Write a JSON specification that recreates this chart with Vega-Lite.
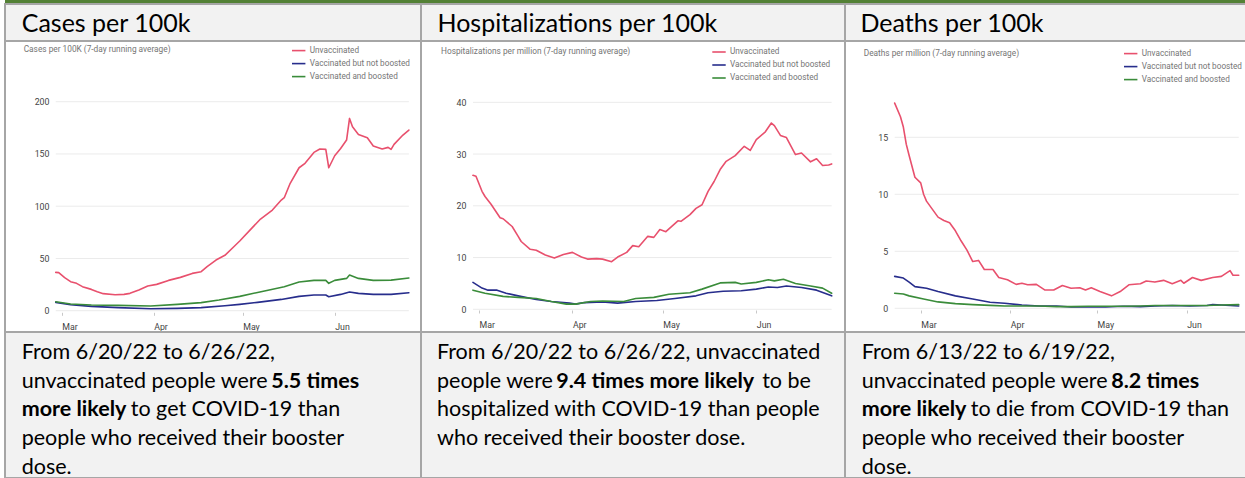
{
"$schema": "https://vega.github.io/schema/vega-lite/v6.json",
"padding": {"left": 4, "top": 0, "right": 0, "bottom": 0},
"background": "white",
"config": {
  "view": {"stroke": null},
  "axis": {"domain": false, "grid": false, "labelFont": "Roboto", "labelFontSize": 8.8, "labelColor": "#444444", "labelFlush": false, "labelOverlap": false},
  "axisX": {"tickSize": 3, "tickColor": "#c8c8c8", "tickWidth": 1, "labelAlign": "left", "labelBaseline": "top", "labelPadding": 7},
  "axisY": {"ticks": false, "tickSize": 0, "labelPadding": 2},
  "legend": {"orient": "none", "symbolType": "stroke", "symbolSize": 180, "symbolStrokeWidth": 2, "labelFontSize": 8.2, "labelFont": "Roboto", "labelColor": "#757575", "rowPadding": 1, "labelOffset": 3, "padding": 0, "labelLimit": 250},
  "line": {"strokeWidth": 1.6, "strokeJoin": "round", "strokeCap": "round"}
},
"datasets": {
  "cases": [
    {"d":"2022-02-27","s":"Unvaccinated","v":36.7},{"d":"2022-02-28","s":"Unvaccinated","v":36.4},{"d":"2022-03-02","s":"Unvaccinated","v":31.6},{"d":"2022-03-04","s":"Unvaccinated","v":27.8},{"d":"2022-03-06","s":"Unvaccinated","v":26.2},{"d":"2022-03-08","s":"Unvaccinated","v":23.0},{"d":"2022-03-11","s":"Unvaccinated","v":20.4},{"d":"2022-03-13","s":"Unvaccinated","v":18.2},{"d":"2022-03-15","s":"Unvaccinated","v":16.3},{"d":"2022-03-19","s":"Unvaccinated","v":15.3},{"d":"2022-03-22","s":"Unvaccinated","v":15.6},{"d":"2022-03-24","s":"Unvaccinated","v":16.6},{"d":"2022-03-27","s":"Unvaccinated","v":19.8},{"d":"2022-03-30","s":"Unvaccinated","v":23.6},{"d":"2022-04-02","s":"Unvaccinated","v":25.2},{"d":"2022-04-06","s":"Unvaccinated","v":29.0},{"d":"2022-04-10","s":"Unvaccinated","v":31.9},{"d":"2022-04-14","s":"Unvaccinated","v":35.7},{"d":"2022-04-17","s":"Unvaccinated","v":37.3},{"d":"2022-04-19","s":"Unvaccinated","v":42.1},{"d":"2022-04-22","s":"Unvaccinated","v":48.5},{"d":"2022-04-25","s":"Unvaccinated","v":53.0},{"d":"2022-04-28","s":"Unvaccinated","v":61.2},{"d":"2022-04-30","s":"Unvaccinated","v":66.7},{"d":"2022-05-04","s":"Unvaccinated","v":78.8},{"d":"2022-05-07","s":"Unvaccinated","v":87.7},{"d":"2022-05-11","s":"Unvaccinated","v":96.3},{"d":"2022-05-14","s":"Unvaccinated","v":105.9},{"d":"2022-05-15","s":"Unvaccinated","v":108.1},{"d":"2022-05-17","s":"Unvaccinated","v":121.9},{"d":"2022-05-20","s":"Unvaccinated","v":136.8},{"d":"2022-05-22","s":"Unvaccinated","v":141.0},{"d":"2022-05-25","s":"Unvaccinated","v":151.5},{"d":"2022-05-27","s":"Unvaccinated","v":154.7},{"d":"2022-05-29","s":"Unvaccinated","v":154.4},{"d":"2022-05-30","s":"Unvaccinated","v":136.8},{"d":"2022-06-01","s":"Unvaccinated","v":148.3},{"d":"2022-06-03","s":"Unvaccinated","v":155.3},{"d":"2022-06-05","s":"Unvaccinated","v":163.3},{"d":"2022-06-06","s":"Unvaccinated","v":184.0},{"d":"2022-06-07","s":"Unvaccinated","v":176.0},{"d":"2022-06-09","s":"Unvaccinated","v":168.7},{"d":"2022-06-12","s":"Unvaccinated","v":165.5},{"d":"2022-06-14","s":"Unvaccinated","v":157.6},{"d":"2022-06-17","s":"Unvaccinated","v":154.7},{"d":"2022-06-19","s":"Unvaccinated","v":156.3},{"d":"2022-06-20","s":"Unvaccinated","v":154.4},{"d":"2022-06-21","s":"Unvaccinated","v":159.2},{"d":"2022-06-24","s":"Unvaccinated","v":168.1},{"d":"2022-06-26","s":"Unvaccinated","v":172.9},
    {"d":"2022-02-27","s":"Vaccinated but not boosted","v":8.0},{"d":"2022-03-04","s":"Vaccinated but not boosted","v":5.7},{"d":"2022-03-11","s":"Vaccinated but not boosted","v":4.1},{"d":"2022-03-20","s":"Vaccinated but not boosted","v":2.9},{"d":"2022-03-31","s":"Vaccinated but not boosted","v":1.9},{"d":"2022-04-09","s":"Vaccinated but not boosted","v":2.2},{"d":"2022-04-17","s":"Vaccinated but not boosted","v":2.9},{"d":"2022-04-25","s":"Vaccinated but not boosted","v":4.8},{"d":"2022-04-30","s":"Vaccinated but not boosted","v":6.1},{"d":"2022-05-06","s":"Vaccinated but not boosted","v":8.0},{"d":"2022-05-14","s":"Vaccinated but not boosted","v":10.8},{"d":"2022-05-20","s":"Vaccinated but not boosted","v":13.7},{"d":"2022-05-25","s":"Vaccinated but not boosted","v":15.0},{"d":"2022-05-29","s":"Vaccinated but not boosted","v":15.0},{"d":"2022-05-30","s":"Vaccinated but not boosted","v":13.4},{"d":"2022-06-03","s":"Vaccinated but not boosted","v":15.6},{"d":"2022-06-06","s":"Vaccinated but not boosted","v":17.9},{"d":"2022-06-09","s":"Vaccinated but not boosted","v":16.6},{"d":"2022-06-14","s":"Vaccinated but not boosted","v":15.6},{"d":"2022-06-20","s":"Vaccinated but not boosted","v":15.6},{"d":"2022-06-26","s":"Vaccinated but not boosted","v":17.2},
    {"d":"2022-02-27","s":"Vaccinated and boosted","v":8.6},{"d":"2022-03-04","s":"Vaccinated and boosted","v":6.4},{"d":"2022-03-11","s":"Vaccinated and boosted","v":5.4},{"d":"2022-03-20","s":"Vaccinated and boosted","v":5.1},{"d":"2022-03-31","s":"Vaccinated and boosted","v":4.5},{"d":"2022-04-09","s":"Vaccinated and boosted","v":6.1},{"d":"2022-04-17","s":"Vaccinated and boosted","v":7.7},{"d":"2022-04-23","s":"Vaccinated and boosted","v":10.2},{"d":"2022-04-30","s":"Vaccinated and boosted","v":13.7},{"d":"2022-05-06","s":"Vaccinated and boosted","v":17.5},{"d":"2022-05-15","s":"Vaccinated and boosted","v":23.0},{"d":"2022-05-20","s":"Vaccinated and boosted","v":27.4},{"d":"2022-05-25","s":"Vaccinated and boosted","v":29.0},{"d":"2022-05-29","s":"Vaccinated and boosted","v":29.0},{"d":"2022-05-30","s":"Vaccinated and boosted","v":26.2},{"d":"2022-06-01","s":"Vaccinated and boosted","v":29.0},{"d":"2022-06-05","s":"Vaccinated and boosted","v":30.9},{"d":"2022-06-06","s":"Vaccinated and boosted","v":34.1},{"d":"2022-06-09","s":"Vaccinated and boosted","v":30.9},{"d":"2022-06-14","s":"Vaccinated and boosted","v":29.0},{"d":"2022-06-20","s":"Vaccinated and boosted","v":29.3},{"d":"2022-06-26","s":"Vaccinated and boosted","v":31.3}
  ],
  "hosp": [
    {"d":"2022-02-27","s":"Unvaccinated","v":25.9},{"d":"2022-02-28","s":"Unvaccinated","v":25.7},{"d":"2022-03-02","s":"Unvaccinated","v":22.8},{"d":"2022-03-03","s":"Unvaccinated","v":21.8},{"d":"2022-03-05","s":"Unvaccinated","v":20.3},{"d":"2022-03-08","s":"Unvaccinated","v":17.7},{"d":"2022-03-09","s":"Unvaccinated","v":17.5},{"d":"2022-03-12","s":"Unvaccinated","v":16.0},{"d":"2022-03-14","s":"Unvaccinated","v":14.1},{"d":"2022-03-15","s":"Unvaccinated","v":13.1},{"d":"2022-03-18","s":"Unvaccinated","v":11.6},{"d":"2022-03-20","s":"Unvaccinated","v":11.4},{"d":"2022-03-23","s":"Unvaccinated","v":10.5},{"d":"2022-03-26","s":"Unvaccinated","v":9.9},{"d":"2022-03-29","s":"Unvaccinated","v":10.6},{"d":"2022-04-01","s":"Unvaccinated","v":11.0},{"d":"2022-04-04","s":"Unvaccinated","v":10.1},{"d":"2022-04-06","s":"Unvaccinated","v":9.7},{"d":"2022-04-09","s":"Unvaccinated","v":9.8},{"d":"2022-04-11","s":"Unvaccinated","v":9.7},{"d":"2022-04-14","s":"Unvaccinated","v":9.2},{"d":"2022-04-16","s":"Unvaccinated","v":10.1},{"d":"2022-04-19","s":"Unvaccinated","v":11.0},{"d":"2022-04-21","s":"Unvaccinated","v":12.3},{"d":"2022-04-23","s":"Unvaccinated","v":12.1},{"d":"2022-04-26","s":"Unvaccinated","v":14.1},{"d":"2022-04-28","s":"Unvaccinated","v":13.9},{"d":"2022-04-30","s":"Unvaccinated","v":15.4},{"d":"2022-05-02","s":"Unvaccinated","v":15.0},{"d":"2022-05-06","s":"Unvaccinated","v":17.1},{"d":"2022-05-07","s":"Unvaccinated","v":17.0},{"d":"2022-05-10","s":"Unvaccinated","v":18.3},{"d":"2022-05-12","s":"Unvaccinated","v":19.5},{"d":"2022-05-14","s":"Unvaccinated","v":20.2},{"d":"2022-05-16","s":"Unvaccinated","v":22.8},{"d":"2022-05-18","s":"Unvaccinated","v":24.7},{"d":"2022-05-20","s":"Unvaccinated","v":27.0},{"d":"2022-05-22","s":"Unvaccinated","v":28.6},{"d":"2022-05-25","s":"Unvaccinated","v":29.7},{"d":"2022-05-28","s":"Unvaccinated","v":31.5},{"d":"2022-05-30","s":"Unvaccinated","v":30.7},{"d":"2022-06-01","s":"Unvaccinated","v":32.8},{"d":"2022-06-04","s":"Unvaccinated","v":34.3},{"d":"2022-06-06","s":"Unvaccinated","v":36.0},{"d":"2022-06-07","s":"Unvaccinated","v":35.5},{"d":"2022-06-09","s":"Unvaccinated","v":33.6},{"d":"2022-06-11","s":"Unvaccinated","v":33.2},{"d":"2022-06-14","s":"Unvaccinated","v":29.9},{"d":"2022-06-16","s":"Unvaccinated","v":30.2},{"d":"2022-06-19","s":"Unvaccinated","v":28.5},{"d":"2022-06-21","s":"Unvaccinated","v":29.1},{"d":"2022-06-23","s":"Unvaccinated","v":27.8},{"d":"2022-06-25","s":"Unvaccinated","v":27.9},{"d":"2022-06-26","s":"Unvaccinated","v":28.1},
    {"d":"2022-02-27","s":"Vaccinated but not boosted","v":5.2},{"d":"2022-03-02","s":"Vaccinated but not boosted","v":4.1},{"d":"2022-03-04","s":"Vaccinated but not boosted","v":3.7},{"d":"2022-03-07","s":"Vaccinated but not boosted","v":3.7},{"d":"2022-03-10","s":"Vaccinated but not boosted","v":3.1},{"d":"2022-03-14","s":"Vaccinated but not boosted","v":2.6},{"d":"2022-03-20","s":"Vaccinated but not boosted","v":1.9},{"d":"2022-03-25","s":"Vaccinated but not boosted","v":1.5},{"d":"2022-03-31","s":"Vaccinated but not boosted","v":1.2},{"d":"2022-04-02","s":"Vaccinated but not boosted","v":1.0},{"d":"2022-04-05","s":"Vaccinated but not boosted","v":1.3},{"d":"2022-04-11","s":"Vaccinated but not boosted","v":1.4},{"d":"2022-04-16","s":"Vaccinated but not boosted","v":1.2},{"d":"2022-04-22","s":"Vaccinated but not boosted","v":1.5},{"d":"2022-04-29","s":"Vaccinated but not boosted","v":1.7},{"d":"2022-05-05","s":"Vaccinated but not boosted","v":2.1},{"d":"2022-05-12","s":"Vaccinated but not boosted","v":2.6},{"d":"2022-05-16","s":"Vaccinated but not boosted","v":3.2},{"d":"2022-05-21","s":"Vaccinated but not boosted","v":3.5},{"d":"2022-05-27","s":"Vaccinated but not boosted","v":3.6},{"d":"2022-06-01","s":"Vaccinated but not boosted","v":3.9},{"d":"2022-06-05","s":"Vaccinated but not boosted","v":4.3},{"d":"2022-06-08","s":"Vaccinated but not boosted","v":4.2},{"d":"2022-06-11","s":"Vaccinated but not boosted","v":4.5},{"d":"2022-06-16","s":"Vaccinated but not boosted","v":4.2},{"d":"2022-06-21","s":"Vaccinated but not boosted","v":3.7},{"d":"2022-06-26","s":"Vaccinated but not boosted","v":2.6},
    {"d":"2022-02-27","s":"Vaccinated and boosted","v":3.7},{"d":"2022-03-03","s":"Vaccinated and boosted","v":3.1},{"d":"2022-03-09","s":"Vaccinated and boosted","v":2.5},{"d":"2022-03-14","s":"Vaccinated and boosted","v":2.3},{"d":"2022-03-20","s":"Vaccinated and boosted","v":2.1},{"d":"2022-03-25","s":"Vaccinated and boosted","v":1.5},{"d":"2022-03-30","s":"Vaccinated and boosted","v":1.0},{"d":"2022-04-02","s":"Vaccinated and boosted","v":1.0},{"d":"2022-04-07","s":"Vaccinated and boosted","v":1.5},{"d":"2022-04-11","s":"Vaccinated and boosted","v":1.6},{"d":"2022-04-18","s":"Vaccinated and boosted","v":1.5},{"d":"2022-04-22","s":"Vaccinated and boosted","v":2.1},{"d":"2022-04-28","s":"Vaccinated and boosted","v":2.3},{"d":"2022-05-03","s":"Vaccinated and boosted","v":2.9},{"d":"2022-05-10","s":"Vaccinated and boosted","v":3.2},{"d":"2022-05-14","s":"Vaccinated and boosted","v":3.9},{"d":"2022-05-20","s":"Vaccinated and boosted","v":5.1},{"d":"2022-05-25","s":"Vaccinated and boosted","v":5.2},{"d":"2022-05-27","s":"Vaccinated and boosted","v":4.9},{"d":"2022-06-01","s":"Vaccinated and boosted","v":5.2},{"d":"2022-06-05","s":"Vaccinated and boosted","v":5.7},{"d":"2022-06-07","s":"Vaccinated and boosted","v":5.5},{"d":"2022-06-10","s":"Vaccinated and boosted","v":5.8},{"d":"2022-06-14","s":"Vaccinated and boosted","v":5.0},{"d":"2022-06-19","s":"Vaccinated and boosted","v":4.5},{"d":"2022-06-23","s":"Vaccinated and boosted","v":4.1},{"d":"2022-06-26","s":"Vaccinated and boosted","v":3.1}
  ],
  "deaths": [
    {"d":"2022-02-20","s":"Unvaccinated","v":18.0},{"d":"2022-02-22","s":"Unvaccinated","v":16.8},{"d":"2022-02-23","s":"Unvaccinated","v":15.9},{"d":"2022-02-24","s":"Unvaccinated","v":14.4},{"d":"2022-02-25","s":"Unvaccinated","v":13.4},{"d":"2022-02-27","s":"Unvaccinated","v":11.5},{"d":"2022-03-01","s":"Unvaccinated","v":11.0},{"d":"2022-03-02","s":"Unvaccinated","v":10.0},{"d":"2022-03-03","s":"Unvaccinated","v":9.4},{"d":"2022-03-05","s":"Unvaccinated","v":8.7},{"d":"2022-03-07","s":"Unvaccinated","v":8.0},{"d":"2022-03-09","s":"Unvaccinated","v":7.7},{"d":"2022-03-11","s":"Unvaccinated","v":7.5},{"d":"2022-03-13","s":"Unvaccinated","v":6.8},{"d":"2022-03-15","s":"Unvaccinated","v":5.9},{"d":"2022-03-17","s":"Unvaccinated","v":5.1},{"d":"2022-03-19","s":"Unvaccinated","v":4.1},{"d":"2022-03-21","s":"Unvaccinated","v":4.2},{"d":"2022-03-23","s":"Unvaccinated","v":3.4},{"d":"2022-03-26","s":"Unvaccinated","v":3.4},{"d":"2022-03-28","s":"Unvaccinated","v":2.7},{"d":"2022-03-31","s":"Unvaccinated","v":2.5},{"d":"2022-04-03","s":"Unvaccinated","v":2.1},{"d":"2022-04-05","s":"Unvaccinated","v":2.2},{"d":"2022-04-07","s":"Unvaccinated","v":2.06},{"d":"2022-04-10","s":"Unvaccinated","v":2.1},{"d":"2022-04-13","s":"Unvaccinated","v":1.6},{"d":"2022-04-16","s":"Unvaccinated","v":1.6},{"d":"2022-04-19","s":"Unvaccinated","v":2.0},{"d":"2022-04-22","s":"Unvaccinated","v":1.76},{"d":"2022-04-25","s":"Unvaccinated","v":1.8},{"d":"2022-04-27","s":"Unvaccinated","v":1.6},{"d":"2022-04-29","s":"Unvaccinated","v":1.8},{"d":"2022-05-02","s":"Unvaccinated","v":1.47},{"d":"2022-05-06","s":"Unvaccinated","v":1.09},{"d":"2022-05-09","s":"Unvaccinated","v":1.47},{"d":"2022-05-12","s":"Unvaccinated","v":2.06},{"d":"2022-05-16","s":"Unvaccinated","v":2.15},{"d":"2022-05-18","s":"Unvaccinated","v":2.4},{"d":"2022-05-21","s":"Unvaccinated","v":2.3},{"d":"2022-05-24","s":"Unvaccinated","v":2.45},{"d":"2022-05-27","s":"Unvaccinated","v":2.15},{"d":"2022-05-30","s":"Unvaccinated","v":2.45},{"d":"2022-05-31","s":"Unvaccinated","v":2.2},{"d":"2022-06-03","s":"Unvaccinated","v":2.7},{"d":"2022-06-06","s":"Unvaccinated","v":2.45},{"d":"2022-06-10","s":"Unvaccinated","v":2.7},{"d":"2022-06-13","s":"Unvaccinated","v":2.8},{"d":"2022-06-16","s":"Unvaccinated","v":3.3},{"d":"2022-06-17","s":"Unvaccinated","v":2.9},{"d":"2022-06-19","s":"Unvaccinated","v":2.9},
    {"d":"2022-02-20","s":"Vaccinated but not boosted","v":2.8},{"d":"2022-02-23","s":"Vaccinated but not boosted","v":2.65},{"d":"2022-02-25","s":"Vaccinated but not boosted","v":2.3},{"d":"2022-02-27","s":"Vaccinated but not boosted","v":1.9},{"d":"2022-03-03","s":"Vaccinated but not boosted","v":1.76},{"d":"2022-03-07","s":"Vaccinated but not boosted","v":1.47},{"d":"2022-03-13","s":"Vaccinated but not boosted","v":1.09},{"d":"2022-03-19","s":"Vaccinated but not boosted","v":0.82},{"d":"2022-03-25","s":"Vaccinated but not boosted","v":0.53},{"d":"2022-03-30","s":"Vaccinated but not boosted","v":0.44},{"d":"2022-04-05","s":"Vaccinated but not boosted","v":0.29},{"d":"2022-04-11","s":"Vaccinated but not boosted","v":0.2},{"d":"2022-04-17","s":"Vaccinated but not boosted","v":0.2},{"d":"2022-04-22","s":"Vaccinated but not boosted","v":0.12},{"d":"2022-04-28","s":"Vaccinated but not boosted","v":0.12},{"d":"2022-05-04","s":"Vaccinated but not boosted","v":0.12},{"d":"2022-05-10","s":"Vaccinated but not boosted","v":0.18},{"d":"2022-05-16","s":"Vaccinated but not boosted","v":0.15},{"d":"2022-05-21","s":"Vaccinated but not boosted","v":0.2},{"d":"2022-05-27","s":"Vaccinated but not boosted","v":0.24},{"d":"2022-06-02","s":"Vaccinated but not boosted","v":0.2},{"d":"2022-06-08","s":"Vaccinated but not boosted","v":0.24},{"d":"2022-06-10","s":"Vaccinated but not boosted","v":0.32},{"d":"2022-06-13","s":"Vaccinated but not boosted","v":0.29},{"d":"2022-06-19","s":"Vaccinated but not boosted","v":0.2},
    {"d":"2022-02-20","s":"Vaccinated and boosted","v":1.32},{"d":"2022-02-23","s":"Vaccinated and boosted","v":1.26},{"d":"2022-02-25","s":"Vaccinated and boosted","v":1.09},{"d":"2022-03-02","s":"Vaccinated and boosted","v":0.82},{"d":"2022-03-07","s":"Vaccinated and boosted","v":0.56},{"d":"2022-03-13","s":"Vaccinated and boosted","v":0.41},{"d":"2022-03-19","s":"Vaccinated and boosted","v":0.32},{"d":"2022-03-25","s":"Vaccinated and boosted","v":0.26},{"d":"2022-03-30","s":"Vaccinated and boosted","v":0.2},{"d":"2022-04-05","s":"Vaccinated and boosted","v":0.2},{"d":"2022-04-11","s":"Vaccinated and boosted","v":0.2},{"d":"2022-04-17","s":"Vaccinated and boosted","v":0.15},{"d":"2022-04-22","s":"Vaccinated and boosted","v":0.15},{"d":"2022-04-28","s":"Vaccinated and boosted","v":0.18},{"d":"2022-05-04","s":"Vaccinated and boosted","v":0.18},{"d":"2022-05-10","s":"Vaccinated and boosted","v":0.18},{"d":"2022-05-16","s":"Vaccinated and boosted","v":0.2},{"d":"2022-05-21","s":"Vaccinated and boosted","v":0.24},{"d":"2022-05-27","s":"Vaccinated and boosted","v":0.24},{"d":"2022-06-02","s":"Vaccinated and boosted","v":0.24},{"d":"2022-06-08","s":"Vaccinated and boosted","v":0.24},{"d":"2022-06-13","s":"Vaccinated and boosted","v":0.29},{"d":"2022-06-19","s":"Vaccinated and boosted","v":0.32}
  ],
  "txt": [
    {"p":"c","line":1,"col":0,"t":"From 6/20/22 to 6/26/22,","b":0},
    {"p":"c","line":2,"col":0,"t":"unvaccinated people were","b":0},
    {"p":"c","line":2,"col":24.7,"t":"5.5 times","b":1},
    {"p":"c","line":3,"col":0,"t":"more likely","b":1},
    {"p":"c","line":3,"col":10.8,"t":"to get COVID-19 than","b":0},
    {"p":"c","line":4,"col":0,"t":"people who received their booster","b":0},
    {"p":"c","line":5,"col":0,"t":"dose.","b":0},
    {"p":"h","line":1,"col":0,"t":"From 6/20/22 to 6/26/22, unvaccinated","b":0},
    {"p":"h","line":2,"col":0,"t":"people were","b":0},
    {"p":"h","line":2,"col":11.8,"t":"9.4 times more likely","b":1},
    {"p":"h","line":2,"col":32.2,"t":"to be","b":0},
    {"p":"h","line":3,"col":0,"t":"hospitalized with COVID-19 than people","b":0},
    {"p":"h","line":4,"col":0,"t":"who received their booster dose.","b":0},
    {"p":"d","line":1,"col":0,"t":"From 6/13/22 to 6/19/22,","b":0},
    {"p":"d","line":2,"col":0,"t":"unvaccinated people were","b":0},
    {"p":"d","line":2,"col":24.7,"t":"8.2 times","b":1},
    {"p":"d","line":3,"col":0,"t":"more likely","b":1},
    {"p":"d","line":3,"col":10.8,"t":"to die from COVID-19 than","b":0},
    {"p":"d","line":4,"col":0,"t":"people who received their booster","b":0},
    {"p":"d","line":5,"col":0,"t":"dose.","b":0}
  ]
},
"columns": 3,
"spacing": 0,
"bounds": "flush",
"align": "each",
"resolve": {"scale": {"color": "independent", "x": "independent", "y": "independent"}, "legend": {"color": "independent"}},
"concat": [
  {"width": 416, "height": 4, "data": {"values": [{"k": 1}]}, "mark": {"type": "rect", "color": "#538135"}, "encoding": {}},
  {"width": 424, "height": 4, "data": {"values": [{"k": 1}]}, "mark": {"type": "rect", "color": "#538135"}, "encoding": {}},
  {"width": 401, "height": 4, "data": {"values": [{"k": 1}]}, "mark": {"type": "rect", "color": "#538135"}, "encoding": {}},

  {"width": 416, "height": 37, "view": {"fill": "#f2f2f2", "stroke": "#a6a6a6", "strokeWidth": 2},
   "data": {"values": [{"h": "Cases per 100k"}]},
   "mark": {"type": "text", "align": "left", "baseline": "alphabetic", "font": "Lato", "fontSize": 25, "color": "#000000"},
   "encoding": {"text": {"field": "h"}, "x": {"datum": 0, "type": "quantitative", "scale": {"domain": [-1, 23.91], "nice": false, "zero": false}, "axis": null}, "y": {"datum": 0, "type": "quantitative", "scale": {"domain": [-1, 3.253], "nice": false, "zero": false}, "axis": null}}},
  {"width": 424, "height": 37, "view": {"fill": "#f2f2f2", "stroke": "#a6a6a6", "strokeWidth": 2},
   "data": {"values": [{"h": "Hospitalizations per 100k"}]},
   "mark": {"type": "text", "align": "left", "baseline": "alphabetic", "font": "Lato", "fontSize": 25, "color": "#000000"},
   "encoding": {"text": {"field": "h"}, "x": {"datum": 0, "type": "quantitative", "scale": {"domain": [-1, 24.70], "nice": false, "zero": false}, "axis": null}, "y": {"datum": 0, "type": "quantitative", "scale": {"domain": [-1, 3.253], "nice": false, "zero": false}, "axis": null}}},
  {"width": 401, "height": 37, "view": {"fill": "#f2f2f2", "stroke": "#a6a6a6", "strokeWidth": 2},
   "data": {"values": [{"h": "Deaths per 100k"}]},
   "mark": {"type": "text", "align": "left", "baseline": "alphabetic", "font": "Lato", "fontSize": 25, "color": "#000000"},
   "encoding": {"text": {"field": "h"}, "x": {"datum": 0, "type": "quantitative", "scale": {"domain": [-1, 24.87], "nice": false, "zero": false}, "axis": null}, "y": {"datum": 0, "type": "quantitative", "scale": {"domain": [-1, 3.253], "nice": false, "zero": false}, "axis": null}}},

  {"width": 416, "height": 291, "view": {"fill": "#ffffff", "stroke": "#a6a6a6", "strokeWidth": 2},
   "layer": [
    {"data": {"values": [{"d": "2022-02-27", "d2": "2022-06-26", "v": 0}, {"d": "2022-02-27", "d2": "2022-06-26", "v": 50}, {"d": "2022-02-27", "d2": "2022-06-26", "v": 100}, {"d": "2022-02-27", "d2": "2022-06-26", "v": 150}, {"d": "2022-02-27", "d2": "2022-06-26", "v": 200}]},
     "mark": {"type": "rule", "color": "#ebebeb", "strokeWidth": 1},
     "encoding": {
       "x": {"field": "d", "type": "temporal", "scale": {"type": "utc", "domain": [{"year": 2022, "month": 2, "date": 9, "hours": 21, "minutes": 25, "utc": true}, {"year": 2022, "month": 6, "date": 30, "hours": 2, "utc": true}], "nice": false}, "axis": {"values": [{"year": 2022, "month": 3, "date": 1, "utc": true}, {"year": 2022, "month": 4, "date": 1, "utc": true}, {"year": 2022, "month": 5, "date": 1, "utc": true}, {"year": 2022, "month": 6, "date": 1, "utc": true}], "labelExpr": "utcFormat(datum.value, '%b')", "orient": "bottom", "offset": -19.7, "title": null}},
       "x2": {"field": "d2"},
       "y": {"field": "v", "type": "quantitative", "scale": {"domain": [-20.38, 258.09], "nice": false, "zero": false}, "axis": {"values": [0, 50, 100, 150, 200], "orient": "left", "offset": -46, "title": null}}}},
    {"data": {"name": "cases"},
     "mark": {"type": "line"},
     "encoding": {
       "x": {"field": "d", "type": "temporal", "scale": {"type": "utc", "domain": [{"year": 2022, "month": 2, "date": 9, "hours": 21, "minutes": 25, "utc": true}, {"year": 2022, "month": 6, "date": 30, "hours": 2, "utc": true}], "nice": false}, "axis": {"values": [{"year": 2022, "month": 3, "date": 1, "utc": true}, {"year": 2022, "month": 4, "date": 1, "utc": true}, {"year": 2022, "month": 5, "date": 1, "utc": true}, {"year": 2022, "month": 6, "date": 1, "utc": true}], "labelExpr": "utcFormat(datum.value, '%b')", "orient": "bottom", "offset": -19.7, "title": null}},
       "y": {"field": "v", "type": "quantitative", "scale": {"domain": [-20.38, 258.09], "nice": false, "zero": false}, "axis": {"values": [0, 50, 100, 150, 200], "orient": "left", "offset": -46, "title": null}},
       "color": {"field": "s", "type": "nominal", "scale": {"domain": ["Unvaccinated", "Vaccinated but not boosted", "Vaccinated and boosted"], "range": ["#e8506d", "#272d8c", "#3a8c3a"]}, "legend": {"title": null, "legendX": 285.7, "legendY": 1.6}}}},
    {"data": {"values": [{"t": "Cases per 100K (7-day running average)"}]},
     "mark": {"type": "text", "align": "left", "baseline": "middle", "font": "Roboto", "fontSize": 8.3, "color": "#757575"},
     "encoding": {"text": {"field": "t"},
       "x": {"datum": {"year": 2022, "month": 2, "date": 16, "hours": 4, "minutes": 40, "utc": true}, "type": "temporal", "scale": {"type": "utc", "domain": [{"year": 2022, "month": 2, "date": 9, "hours": 21, "minutes": 25, "utc": true}, {"year": 2022, "month": 6, "date": 30, "hours": 2, "utc": true}], "nice": false}, "axis": {"values": [{"year": 2022, "month": 3, "date": 1, "utc": true}, {"year": 2022, "month": 4, "date": 1, "utc": true}, {"year": 2022, "month": 5, "date": 1, "utc": true}, {"year": 2022, "month": 6, "date": 1, "utc": true}], "labelExpr": "utcFormat(datum.value, '%b')", "orient": "bottom", "offset": -19.7, "title": null}},
       "y": {"datum": 249.5, "type": "quantitative", "scale": {"domain": [-20.38, 258.09], "nice": false, "zero": false}, "axis": {"values": [0, 50, 100, 150, 200], "orient": "left", "offset": -46, "title": null}}}}
   ]},
  {"width": 424, "height": 291, "view": {"fill": "#ffffff", "stroke": "#a6a6a6", "strokeWidth": 2},
   "layer": [
    {"data": {"values": [{"d": "2022-02-27", "d2": "2022-06-26", "v": 0}, {"d": "2022-02-27", "d2": "2022-06-26", "v": 10}, {"d": "2022-02-27", "d2": "2022-06-26", "v": 20}, {"d": "2022-02-27", "d2": "2022-06-26", "v": 30}, {"d": "2022-02-27", "d2": "2022-06-26", "v": 40}]},
     "mark": {"type": "rule", "color": "#ebebeb", "strokeWidth": 1},
     "encoding": {
       "x": {"field": "d", "type": "temporal", "scale": {"type": "utc", "domain": [{"year": 2022, "month": 2, "date": 9, "hours": 18, "minutes": 10, "utc": true}, {"year": 2022, "month": 6, "date": 30, "hours": 10, "minutes": 19, "utc": true}], "nice": false}, "axis": {"values": [{"year": 2022, "month": 3, "date": 1, "utc": true}, {"year": 2022, "month": 4, "date": 1, "utc": true}, {"year": 2022, "month": 5, "date": 1, "utc": true}, {"year": 2022, "month": 6, "date": 1, "utc": true}], "labelExpr": "utcFormat(datum.value, '%b')", "orient": "bottom", "offset": -22, "title": null}},
       "x2": {"field": "d2"},
       "y": {"field": "v", "type": "quantitative", "scale": {"domain": [-4.386, 51.85], "nice": false, "zero": false}, "axis": {"values": [0, 10, 20, 30, 40], "orient": "left", "offset": -47, "title": null}}}},
    {"data": {"name": "hosp"},
     "mark": {"type": "line"},
     "encoding": {
       "x": {"field": "d", "type": "temporal", "scale": {"type": "utc", "domain": [{"year": 2022, "month": 2, "date": 9, "hours": 18, "minutes": 10, "utc": true}, {"year": 2022, "month": 6, "date": 30, "hours": 10, "minutes": 19, "utc": true}], "nice": false}, "axis": {"values": [{"year": 2022, "month": 3, "date": 1, "utc": true}, {"year": 2022, "month": 4, "date": 1, "utc": true}, {"year": 2022, "month": 5, "date": 1, "utc": true}, {"year": 2022, "month": 6, "date": 1, "utc": true}], "labelExpr": "utcFormat(datum.value, '%b')", "orient": "bottom", "offset": -22, "title": null}},
       "y": {"field": "v", "type": "quantitative", "scale": {"domain": [-4.386, 51.85], "nice": false, "zero": false}, "axis": {"values": [0, 10, 20, 30, 40], "orient": "left", "offset": -47, "title": null}},
       "color": {"field": "s", "type": "nominal", "scale": {"domain": ["Unvaccinated", "Vaccinated but not boosted", "Vaccinated and boosted"], "range": ["#e8506d", "#272d8c", "#3a8c3a"]}, "legend": {"title": null, "legendX": 290, "legendY": 3}}}},
    {"data": {"values": [{"t": "Hospitalizations per million (7-day running average)"}]},
     "mark": {"type": "text", "align": "left", "baseline": "middle", "font": "Roboto", "fontSize": 8.3, "color": "#757575"},
     "encoding": {"text": {"field": "t"},
       "x": {"datum": {"year": 2022, "month": 2, "date": 16, "hours": 9, "minutes": 22, "utc": true}, "type": "temporal", "scale": {"type": "utc", "domain": [{"year": 2022, "month": 2, "date": 9, "hours": 18, "minutes": 10, "utc": true}, {"year": 2022, "month": 6, "date": 30, "hours": 10, "minutes": 19, "utc": true}], "nice": false}, "axis": {"values": [{"year": 2022, "month": 3, "date": 1, "utc": true}, {"year": 2022, "month": 4, "date": 1, "utc": true}, {"year": 2022, "month": 5, "date": 1, "utc": true}, {"year": 2022, "month": 6, "date": 1, "utc": true}], "labelExpr": "utcFormat(datum.value, '%b')", "orient": "bottom", "offset": -22, "title": null}},
       "y": {"datum": 49.8, "type": "quantitative", "scale": {"domain": [-4.386, 51.85], "nice": false, "zero": false}, "axis": {"values": [0, 10, 20, 30, 40], "orient": "left", "offset": -47, "title": null}}}}
   ]},
  {"width": 401, "height": 291, "view": {"fill": "#ffffff", "stroke": "#a6a6a6", "strokeWidth": 2},
   "layer": [
    {"data": {"values": [{"d": "2022-02-20", "d2": "2022-06-19", "v": 0}, {"d": "2022-02-20", "d2": "2022-06-19", "v": 5}, {"d": "2022-02-20", "d2": "2022-06-19", "v": 10}, {"d": "2022-02-20", "d2": "2022-06-19", "v": 15}]},
     "mark": {"type": "rule", "color": "#ebebeb", "strokeWidth": 1},
     "encoding": {
       "x": {"field": "d", "type": "temporal", "scale": {"type": "utc", "domain": [{"year": 2022, "month": 2, "date": 2, "hours": 19, "minutes": 38, "utc": true}, {"year": 2022, "month": 6, "date": 21, "hours": 12, "minutes": 14, "utc": true}], "nice": false}, "axis": {"values": [{"year": 2022, "month": 3, "date": 1, "utc": true}, {"year": 2022, "month": 4, "date": 1, "utc": true}, {"year": 2022, "month": 5, "date": 1, "utc": true}, {"year": 2022, "month": 6, "date": 1, "utc": true}], "labelExpr": "utcFormat(datum.value, '%b')", "orient": "bottom", "offset": -22, "title": null}},
       "x2": {"field": "d2"},
       "y": {"field": "v", "type": "quantitative", "scale": {"domain": [-2.079, 23.447], "nice": false, "zero": false}, "axis": {"values": [0, 5, 10, 15], "orient": "left", "offset": -44.7, "title": null}}}},
    {"data": {"name": "deaths"},
     "mark": {"type": "line"},
     "encoding": {
       "x": {"field": "d", "type": "temporal", "scale": {"type": "utc", "domain": [{"year": 2022, "month": 2, "date": 2, "hours": 19, "minutes": 38, "utc": true}, {"year": 2022, "month": 6, "date": 21, "hours": 12, "minutes": 14, "utc": true}], "nice": false}, "axis": {"values": [{"year": 2022, "month": 3, "date": 1, "utc": true}, {"year": 2022, "month": 4, "date": 1, "utc": true}, {"year": 2022, "month": 5, "date": 1, "utc": true}, {"year": 2022, "month": 6, "date": 1, "utc": true}], "labelExpr": "utcFormat(datum.value, '%b')", "orient": "bottom", "offset": -22, "title": null}},
       "y": {"field": "v", "type": "quantitative", "scale": {"domain": [-2.079, 23.447], "nice": false, "zero": false}, "axis": {"values": [0, 5, 10, 15], "orient": "left", "offset": -44.7, "title": null}},
       "color": {"field": "s", "type": "nominal", "scale": {"domain": ["Unvaccinated", "Vaccinated but not boosted", "Vaccinated and boosted"], "range": ["#e8506d", "#272d8c", "#3a8c3a"]}, "legend": {"title": null, "legendX": 277.7, "legendY": 4.6}}}},
    {"data": {"values": [{"t": "Deaths per million (7-day running average)"}]},
     "mark": {"type": "text", "align": "left", "baseline": "middle", "font": "Roboto", "fontSize": 8.3, "color": "#757575"},
     "encoding": {"text": {"field": "t"},
       "x": {"datum": {"year": 2022, "month": 2, "date": 9, "hours": 6, "minutes": 50, "utc": true}, "type": "temporal", "scale": {"type": "utc", "domain": [{"year": 2022, "month": 2, "date": 2, "hours": 19, "minutes": 38, "utc": true}, {"year": 2022, "month": 6, "date": 21, "hours": 12, "minutes": 14, "utc": true}], "nice": false}, "axis": {"values": [{"year": 2022, "month": 3, "date": 1, "utc": true}, {"year": 2022, "month": 4, "date": 1, "utc": true}, {"year": 2022, "month": 5, "date": 1, "utc": true}, {"year": 2022, "month": 6, "date": 1, "utc": true}], "labelExpr": "utcFormat(datum.value, '%b')", "orient": "bottom", "offset": -22, "title": null}},
       "y": {"datum": 22.3, "type": "quantitative", "scale": {"domain": [-2.079, 23.447], "nice": false, "zero": false}, "axis": {"values": [0, 5, 10, 15], "orient": "left", "offset": -44.7, "title": null}}}}
   ]},

  {"width": 416, "height": 146, "view": {"fill": "#f2f2f2", "stroke": "#a6a6a6", "strokeWidth": 2},
   "data": {"name": "txt"},
   "transform": [{"filter": "datum.p == 'c'"}],
   "encoding": {"x": {"field": "col", "type": "quantitative", "scale": {"domain": [-1.653, 39.535], "nice": false, "zero": false}, "axis": null}, "y": {"field": "line", "type": "quantitative", "scale": {"domain": [0.0455, 5.1504], "nice": false, "zero": false, "reverse": true}, "axis": null}, "text": {"field": "t"}},
   "layer": [
    {"transform": [{"filter": "datum.b == 0"}], "mark": {"type": "text", "align": "left", "baseline": "alphabetic", "font": "Lato", "fontSize": 21.5, "color": "#000000"}},
    {"transform": [{"filter": "datum.b == 1"}], "mark": {"type": "text", "align": "left", "baseline": "alphabetic", "font": "Lato", "fontSize": 21.5, "fontWeight": "bold", "color": "#000000"}}
   ]},
  {"width": 424, "height": 146, "view": {"fill": "#f2f2f2", "stroke": "#a6a6a6", "strokeWidth": 2},
   "data": {"name": "txt"},
   "transform": [{"filter": "datum.p == 'h'"}],
   "encoding": {"x": {"field": "col", "type": "quantitative", "scale": {"domain": [-1.584, 40.396], "nice": false, "zero": false}, "axis": null}, "y": {"field": "line", "type": "quantitative", "scale": {"domain": [0.0455, 5.1504], "nice": false, "zero": false, "reverse": true}, "axis": null}, "text": {"field": "t"}},
   "layer": [
    {"transform": [{"filter": "datum.b == 0"}], "mark": {"type": "text", "align": "left", "baseline": "alphabetic", "font": "Lato", "fontSize": 21.5, "color": "#000000"}},
    {"transform": [{"filter": "datum.b == 1"}], "mark": {"type": "text", "align": "left", "baseline": "alphabetic", "font": "Lato", "fontSize": 21.5, "fontWeight": "bold", "color": "#000000"}}
   ]},
  {"width": 401, "height": 146, "view": {"fill": "#f2f2f2", "stroke": "#a6a6a6", "strokeWidth": 2},
   "data": {"name": "txt"},
   "transform": [{"filter": "datum.p == 'd'"}],
   "encoding": {"x": {"field": "col", "type": "quantitative", "scale": {"domain": [-1.653, 38.05], "nice": false, "zero": false}, "axis": null}, "y": {"field": "line", "type": "quantitative", "scale": {"domain": [0.0455, 5.1504], "nice": false, "zero": false, "reverse": true}, "axis": null}, "text": {"field": "t"}},
   "layer": [
    {"transform": [{"filter": "datum.b == 0"}], "mark": {"type": "text", "align": "left", "baseline": "alphabetic", "font": "Lato", "fontSize": 21.5, "color": "#000000"}},
    {"transform": [{"filter": "datum.b == 1"}], "mark": {"type": "text", "align": "left", "baseline": "alphabetic", "font": "Lato", "fontSize": 21.5, "fontWeight": "bold", "color": "#000000"}}
   ]}
]
}
